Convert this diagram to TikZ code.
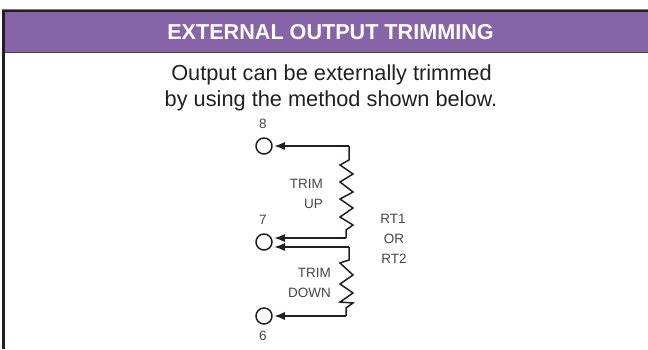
\documentclass[tikz,border=0pt]{standalone}
\usepackage{fontspec}
\setmainfont{Liberation Sans}
\usetikzlibrary{arrows.meta}
\definecolor{hdr}{RGB}{135,99,168}
\definecolor{ink}{RGB}{35,31,32}
\definecolor{txt}{RGB}{70,68,70}
\tikzset{
  wire/.style={draw=ink,line width=1.5pt,line join=miter},
  lead/.style={wire,-{Latex[length=10.5pt,width=8pt]},shorten >=1.5pt},
  term/.style={circle,draw=ink,line width=1.5pt,minimum size=16pt,inner sep=0pt},
  small/.style={font=\fontsize{13.5}{15}\selectfont,text=txt,inner sep=0pt},
  body/.style={font=\fontsize{21.75}{26}\selectfont,text=ink,inner sep=0pt,anchor=base}
}
\begin{document}
\begin{tikzpicture}[x=1pt,y=-1pt]
\useasboundingbox (0,0) rectangle (648,349);
\fill[hdr] (3,11) rectangle (648,52);
\draw[ink!60,line width=0.6pt] (2,9.7) -- (648,9.7);
\draw[ink,line width=2pt] (2.5,11) -- (648,11);
\draw[ink!85,line width=1pt] (3,52.5) -- (648,52.5);
\draw[ink,line width=2.5pt] (3.5,10) -- (3.5,349);
\node[font=\fontsize{21.6}{26}\selectfont\bfseries,text=white,inner sep=0pt,anchor=base] (title) at (330.5,39) {EXTERNAL OUTPUT TRIMMING};
\node[body] (l1) at (331.5,80) {Output can be externally trimmed};
\node[body] (l2) at (331,106.5) {by using the method shown below.};
\node[term] (t8) at (264,146) {};
\node[term] (t7) at (264,242) {};
\node[term] (t6) at (264,316) {};
\node[small] (n8) at (263,124) {8};
\node[small] (n7) at (263,220) {7};
\node[small] (n6) at (263,336) {6};
\node[small,anchor=east] (up1) at (323,184) {TRIM};
\node[small,anchor=east] (up2) at (323,204) {UP};
\node[small,anchor=east] (dn1) at (331,273) {TRIM};
\node[small,anchor=east] (dn2) at (331,293) {DOWN};
\node[small] (r1) at (393,219) {RT1};
\node[small] (r2) at (394,239) {OR};
\node[small] (r3) at (394,259) {RT2};
\coordinate (a) at (349,146);
\coordinate (b) at (346,238);
\coordinate (c) at (349,247);
\coordinate (d) at (346,316);
\draw[lead] (a) -- (t8);
\draw[lead] (b) -- (t7.east |- b);
\draw[lead] (c) -- (t7.east |- c);
\draw[lead] (d) -- (t6);
\draw[wire] (a) -- (349,160) -- (340,165) -- (353,174) -- (340,182) -- (353,192) -- (340,199) -- (353,208) -- (340,217) -- (353,225) -- (346,230) -- (b);
\draw[wire] (c) -- (349,260) -- (340,263) -- (353,275) -- (340,284) -- (353,293) -- (340,302) -- (353,303) -- (346,308) -- (d);
\end{tikzpicture}
\end{document}
